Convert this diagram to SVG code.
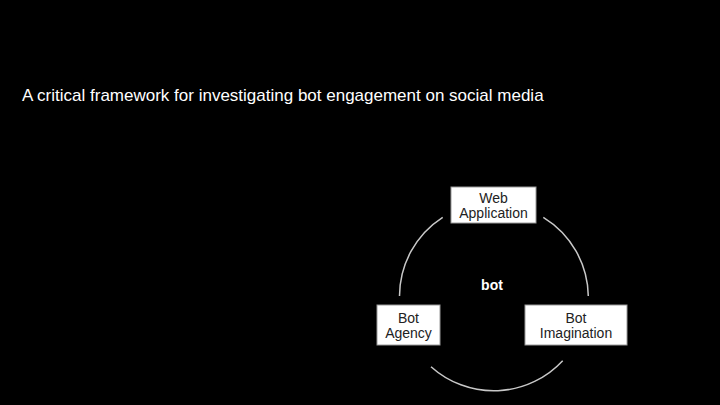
<svg xmlns="http://www.w3.org/2000/svg" width="720" height="405" viewBox="0 0 720 405">
<style>
.box{fill:#ffffff;stroke:#9a9a9a;stroke-width:1}
.lbl{font-family:"Liberation Sans",Arial,sans-serif;font-size:14px;fill:#222;text-anchor:middle}
.arc{fill:none;stroke:#c8c8c8;stroke-width:1.5}
</style>
<rect width="720" height="405" fill="#000"/>
<text x="22" y="101" font-family="Liberation Sans, Arial, sans-serif" font-size="17" fill="#ffffff">A critical framework for investigating bot engagement on social media</text>
<g id="connectors">
<path class="arc" d="M442.7 217.3 A94 94 0 0 0 399.5 296"/>
<path class="arc" d="M543.3 217.3 A94 94 0 0 1 588.3 296"/>
<path class="arc" d="M431 366.7 A94 94 0 0 0 562.7 360.7"/>
</g>
<g id="center">
<text x="492" y="290" font-family="Liberation Sans, Arial, sans-serif" font-size="14" font-weight="bold" fill="#ffffff" text-anchor="middle">bot</text>
</g>
<g id="web-application">
<rect class="box" x="451" y="187" width="85" height="36"/>
<text class="lbl" x="493.5" y="202.5">Web</text>
<text class="lbl" x="493.5" y="217.5">Application</text>
</g>
<g id="bot-agency">
<rect class="box" x="377" y="305" width="63" height="40"/>
<text class="lbl" x="408.5" y="322.5">Bot</text>
<text class="lbl" x="408.5" y="337.5">Agency</text>
</g>
<g id="bot-imagination">
<rect class="box" x="525" y="305" width="102" height="40"/>
<text class="lbl" x="576" y="322.5">Bot</text>
<text class="lbl" x="576" y="337.5">Imagination</text>
</g>
</svg>
